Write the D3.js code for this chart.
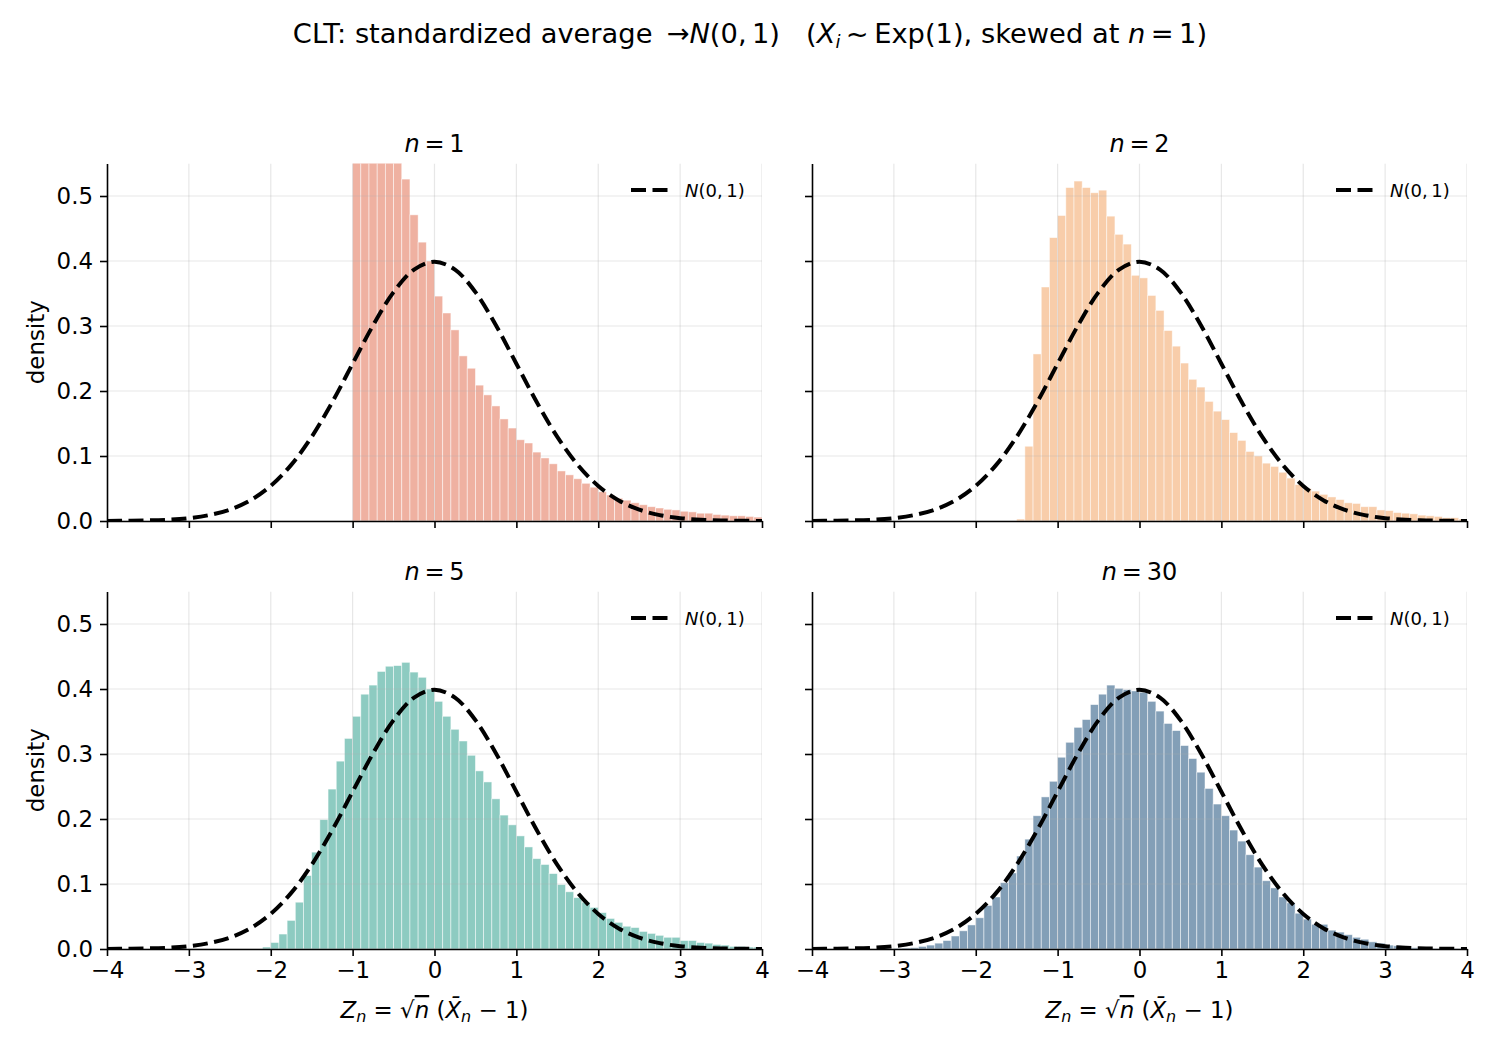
<!DOCTYPE html>
<html>
<head>
<meta charset="utf-8">
<script src="https://cdn.jsdelivr.net/npm/d3@7"></script>
<style>
  body { margin: 0; background: #fff; }
  text { font-family: "DejaVu Sans", sans-serif; fill: #000; }
</style>
</head>
<body>
<script>
// histogram bins are 0.1 wide, each series starts at its first non-empty bin
var binWidth = 0.1;

var n1Start = -1.0;
var n1Density = [0.95, 0.86, 0.78, 0.71, 0.64, 0.58, 0.526, 0.471, 0.429, 0.400,
  0.346, 0.320, 0.294, 0.254, 0.235, 0.209, 0.194, 0.177, 0.157, 0.143,
  0.125, 0.120, 0.106, 0.097, 0.088, 0.077, 0.071, 0.065, 0.058, 0.052,
  0.045, 0.040, 0.035, 0.032, 0.028, 0.025, 0.022, 0.020, 0.018, 0.017,
  0.015, 0.014, 0.012, 0.012, 0.010, 0.009, 0.008, 0.008, 0.007, 0.006];

var n2Start = -1.5;
var n2Density = [0.003, 0.115, 0.257, 0.360, 0.436, 0.470, 0.513, 0.523, 0.513, 0.505,
  0.509, 0.469, 0.441, 0.426, 0.378, 0.374, 0.347, 0.324, 0.293, 0.269,
  0.243, 0.218, 0.206, 0.184, 0.169, 0.156, 0.136, 0.124, 0.107, 0.100,
  0.089, 0.084, 0.075, 0.066, 0.056, 0.050, 0.046, 0.041, 0.037, 0.033,
  0.028, 0.027, 0.022, 0.022, 0.017, 0.016, 0.013, 0.012, 0.011, 0.009,
  0.008, 0.007, 0.005, 0.005, 0.003];

var n5Start = -2.1;
var n5Density = [0.003, 0.010, 0.023, 0.044, 0.072, 0.113, 0.149, 0.199, 0.246, 0.289,
  0.324, 0.358, 0.392, 0.406, 0.427, 0.435, 0.436, 0.441, 0.426, 0.418,
  0.400, 0.381, 0.358, 0.338, 0.320, 0.298, 0.274, 0.257, 0.231, 0.206,
  0.191, 0.174, 0.157, 0.139, 0.130, 0.116, 0.099, 0.088, 0.079, 0.072,
  0.064, 0.056, 0.047, 0.041, 0.035, 0.033, 0.027, 0.024, 0.021, 0.018,
  0.018, 0.013, 0.013, 0.010, 0.009, 0.007, 0.006, 0.004, 0.004, 0.003,
  0.003];

var n30Start = -3.0;
var n30Density = [0.001, 0.0015, 0.002, 0.004, 0.006, 0.009, 0.013, 0.020, 0.028, 0.037,
  0.048, 0.067, 0.080, 0.102, 0.117, 0.143, 0.169, 0.205, 0.234, 0.258,
  0.295, 0.318, 0.341, 0.353, 0.376, 0.392, 0.406, 0.401, 0.399, 0.397,
  0.395, 0.381, 0.366, 0.347, 0.336, 0.313, 0.293, 0.272, 0.247, 0.223,
  0.205, 0.183, 0.166, 0.145, 0.126, 0.105, 0.094, 0.080, 0.071, 0.055,
  0.046, 0.038, 0.038, 0.029, 0.026, 0.022, 0.018, 0.015, 0.011, 0.009,
  0.006, 0.005, 0.003, 0.002, 0.0015, 0.001, 0.0007, 0.0005, 0.0003, 0.0002];

// reference N(0,1) curve, read every 0.25
var normalZ = [-4, -3.75, -3.5, -3.25, -3, -2.75, -2.5, -2.25, -2, -1.75, -1.5, -1.25, -1, -0.75, -0.5, -0.25,
  0, 0.25, 0.5, 0.75, 1, 1.25, 1.5, 1.75, 2, 2.25, 2.5, 2.75, 3, 3.25, 3.5, 3.75, 4];
var normalPdf = [0.0001, 0.0004, 0.0009, 0.0020, 0.0044, 0.0091, 0.0175, 0.0317, 0.0540, 0.0863, 0.1295, 0.1826, 0.2420, 0.3011, 0.3521, 0.3867,
  0.3989, 0.3867, 0.3521, 0.3011, 0.2420, 0.1826, 0.1295, 0.0863, 0.0540, 0.0317, 0.0175, 0.0091, 0.0044, 0.0020, 0.0009, 0.0004, 0.0001];

var xTicks = [-4, -3, -2, -1, 0, 1, 2, 3, 4];
var yTicks = [0, 0.1, 0.2, 0.3, 0.4, 0.5];
var sampleSizes = ["1", "2", "5", "30"];

var w = 1500;
var h = 1050;
var pw = 655;     // panel width
var ph = 357.5;   // panel height
var lefts = [107, 812];
var tops = [163.5, 591.5];
var fs = 22.9;    // tick / axis label font size

var panels = [
  { n: sampleSizes[0], start: n1Start, dens: n1Density, color: "#EFB1A1", row: 0, col: 0 },
  { n: sampleSizes[1], start: n2Start, dens: n2Density, color: "#F8CDAA", row: 0, col: 1 },
  { n: sampleSizes[2], start: n5Start, dens: n5Density, color: "#8DCBC1", row: 1, col: 0 },
  { n: sampleSizes[3], start: n30Start, dens: n30Density, color: "#839FB7", row: 1, col: 1 }
];

var svg = d3.select("body")
    .append("svg")
    .attr("width", w)
    .attr("height", h);

function minus(d) {
  return d < 0 ? "\u2212" + Math.abs(d) : String(d);
}

panels.forEach(function(p, pi) {
  var left = lefts[p.col], top = tops[p.row];
  var x = d3.scaleLinear().domain([-4, 4]).range([left, left + pw]);
  var y = d3.scaleLinear().domain([0, 0.55]).range([top + ph, top]);

  svg.append("clipPath").attr("id", "clip" + pi)
    .append("rect").attr("x", left).attr("y", top).attr("width", pw).attr("height", ph);

  var g = svg.append("g");
  var plot = g.append("g").attr("clip-path", "url(#clip" + pi + ")");

  var bins = p.dens.map(function(v, i) {
    return { x0: Math.round((p.start + i * binWidth) * 10) / 10, v: v };
  });

  plot.selectAll("rect.bar")
    .data(bins)
    .enter()
    .append("rect")
    .attr("class", "bar")
    .attr("x", function(d) { return x(d.x0); })
    .attr("width", function(d) { return x(d.x0 + binWidth) - x(d.x0); })
    .attr("y", function(d) { return y(d.v); })
    .attr("height", function(d) { return y(0) - y(d.v); })
    .attr("fill", p.color)
    .attr("stroke", "#fff")
    .attr("stroke-opacity", 0.6)
    .attr("stroke-width", 0.8);

  // grid
  plot.selectAll("line.vg")
    .data(xTicks)
    .enter()
    .append("line")
    .attr("x1", function(d) { return x(d); })
    .attr("x2", function(d) { return x(d); })
    .attr("y1", top).attr("y2", top + ph)
    .attr("stroke", "#b0b0b0").attr("stroke-opacity", 0.3).attr("stroke-width", 1.2);
  plot.selectAll("line.hg")
    .data(yTicks)
    .enter()
    .append("line")
    .attr("y1", function(d) { return y(d); })
    .attr("y2", function(d) { return y(d); })
    .attr("x1", left).attr("x2", left + pw)
    .attr("stroke", "#b0b0b0").attr("stroke-opacity", 0.3).attr("stroke-width", 1.2);

  var line = d3.line()
    .x(function(d, i) { return x(normalZ[i]); })
    .y(function(d) { return y(d); })
    .curve(d3.curveCatmullRom);

  plot.append("path")
    .datum(normalPdf)
    .attr("d", line)
    .attr("fill", "none")
    .attr("stroke", "#000")
    .attr("stroke-width", 4)
    .attr("stroke-dasharray", "15,6.5");

  var xAxis = d3.axisBottom(x)
    .tickValues(xTicks)
    .tickSizeInner(7).tickSizeOuter(0).tickPadding(6)
    .tickFormat(p.row === 1 ? minus : function() { return ""; });
  var yAxis = d3.axisLeft(y)
    .tickValues(yTicks)
    .tickSizeInner(7).tickSizeOuter(0).tickPadding(7)
    .tickFormat(p.col === 0 ? d3.format(".1f") : function() { return ""; });

  var gx = g.append("g")
    .attr("transform", "translate(0," + (top + ph) + ")")
    .call(xAxis);
  var gy = g.append("g")
    .attr("transform", "translate(" + left + ",0)")
    .call(yAxis);
  [gx, gy].forEach(function(a) {
    a.select(".domain").attr("stroke", "#000").attr("stroke-width", 1.6);
    a.selectAll(".tick line").attr("stroke", "#000").attr("stroke-width", 1.6);
    a.selectAll(".tick text").attr("font-size", fs + "px").attr("fill", "#000")
      .style("font-family", "DejaVu Sans");
  });

  // panel title n = ...
  var t = g.append("text")
    .attr("x", left + pw / 2)
    .attr("y", top - 12)
    .attr("text-anchor", "middle")
    .attr("font-size", "24px")
    .style("white-space", "pre");
  t.append("tspan").attr("font-style", "italic").text("n");
  t.append("tspan").text("\u2009=\u2009" + p.n);

  // legend
  var lx = left + pw - 131, ly = top + 26.5;
  g.append("line")
    .attr("x1", lx).attr("x2", lx + 37)
    .attr("y1", ly).attr("y2", ly)
    .attr("stroke", "#000").attr("stroke-width", 4)
    .attr("stroke-dasharray", "15,6.5");
  var lt = g.append("text")
    .attr("x", lx + 54).attr("y", ly + 7)
    .attr("font-size", "18px");
  lt.append("tspan").attr("font-style", "italic").text("N");
  lt.append("tspan").text("(0,\u20091)");

  if (p.col === 0) {
    g.append("text")
      .attr("text-anchor", "middle")
      .attr("transform", "translate(44," + (top + ph / 2) + ") rotate(-90)")
      .attr("font-size", fs + "px")
      .text("density");
  }

  if (p.row === 1) {
    var xl = g.append("text")
      .attr("x", left + pw / 2)
      .attr("y", 1018)
      .attr("text-anchor", "middle")
      .attr("font-size", fs + "px")
      .style("white-space", "pre");
    xl.append("tspan").attr("font-style", "italic").text("Z");
    xl.append("tspan").attr("font-style", "italic").attr("font-size", "16px").attr("dy", 4).text("n");
    xl.append("tspan").attr("dy", -4).text(" = \u221A");
    xl.append("tspan").attr("font-style", "italic").style("text-decoration", "overline").text("n");
    xl.append("tspan").text(" (");
    xl.append("tspan").attr("font-style", "italic").text("X\u0304");
    xl.append("tspan").attr("font-style", "italic").attr("font-size", "16px").attr("dy", 4).text("n");
    xl.append("tspan").attr("dy", -4).text(" \u2212 1)");
  }
});

// suptitle
var st = svg.append("text")
  .attr("x", w / 2)
  .attr("y", 43)
  .attr("text-anchor", "middle")
  .attr("font-size", "27.3px")
  .style("white-space", "pre");
st.append("tspan").text("CLT: standardized average \u2009\u2192");
st.append("tspan").attr("font-style", "italic").text("N");
st.append("tspan").text("(0,\u20091)   (");
st.append("tspan").attr("font-style", "italic").text("X");
st.append("tspan").attr("font-style", "italic").attr("font-size", "18px").attr("dy", 5).text("i");
st.append("tspan").attr("dy", -5).text("\u2009~\u2009Exp(1), skewed at ");
st.append("tspan").attr("font-style", "italic").text("n");
st.append("tspan").text("\u2009=\u20091)");
</script>
</body>
</html>
